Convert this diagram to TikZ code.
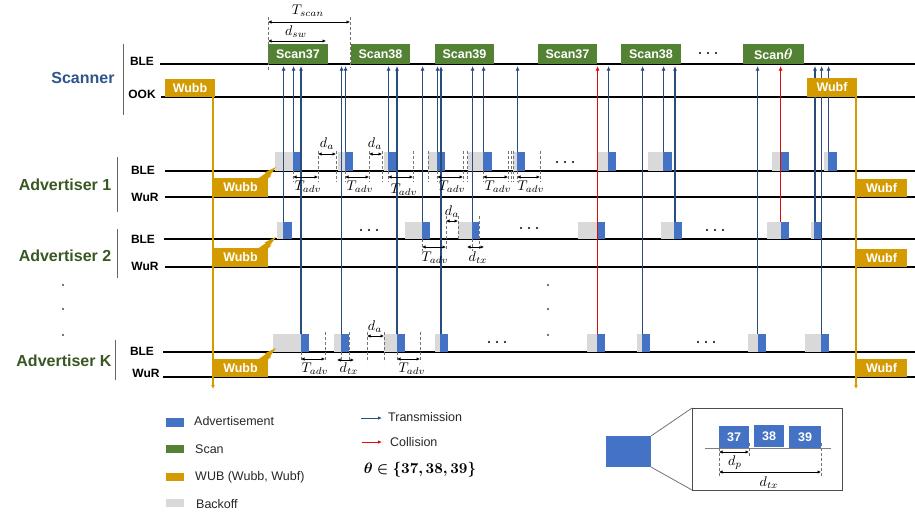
\documentclass[tikz,border=0pt]{standalone}
\usepackage[no-math]{fontspec}
\setmainfont{Liberation Sans}
\usepackage{bm}
\usepackage{graphicx}
\usetikzlibrary{arrows.meta}
\definecolor{scang}{RGB}{84,130,53}
\definecolor{wub}{RGB}{211,155,0}
\definecolor{advb}{RGB}{68,114,196}
\definecolor{boff}{RGB}{217,217,217}
\definecolor{txc}{RGB}{40,76,124}
\definecolor{colc}{RGB}{225,10,10}
\definecolor{scnc}{RGB}{44,85,140}
\definecolor{advc}{RGB}{56,87,35}
\tikzset{
  lane/.style={line width=1.1pt, black},
  vbar/.style={line width=0.9pt, black!60},
  rowlab/.style={font=\fontsize{12}{14}\selectfont\bfseries, inner sep=0pt},
  grplab/.style={font=\fontsize{16}{18}\selectfont\bfseries, inner sep=0pt},
  scanbox/.style={fill=scang, text=white, font=\fontsize{12.5}{14}\selectfont\bfseries, inner sep=0pt, minimum height=20pt},
  wubbox/.style={fill=wub, text=white, font=\fontsize{12.5}{14}\selectfont\bfseries, inner sep=0pt},
  tx/.style={draw=txc, line width=1.1pt, -{Latex[length=4.5pt,width=4pt]}},
  col/.style={draw=colc, line width=1.1pt, -{Latex[length=4.5pt,width=4pt]}},
  wubline/.style={draw=wub, line width=1.1pt, -{Latex[length=4pt,width=4pt]}},
  dim/.style={black, line width=0.9pt, {Latex[length=3.5pt,width=3.5pt]}-{Latex[length=3.5pt,width=3.5pt]}},
  dsh/.style={black!55, line width=0.8pt, dash pattern=on 3pt off 2pt},
  mlab/.style={font=\fontsize{10}{12}\selectfont, inner sep=0pt},
  legtxt/.style={font=\fontsize{12.5}{14}\selectfont, inner sep=0pt, anchor=west, text=black!85},
}
\newcommand{\mth}[1]{\scalebox{1.4}{$#1$}}
\newcommand{\wubtail}[1]{\fill[wub] (258,#1+0.5) -- (266,#1-5) -- (264.5,#1-5.5) -- (276,#1-11) -- (270,#1-2.5) -- (271.5,#1-2.5) -- (268,#1+0.5) -- cycle;}
\newcommand{\hdots}[3][black]{\foreach \k in {-8,0,8} \fill[#1] (#2+\k,#3) circle (1.1pt);}
\begin{document}
\begin{tikzpicture}[x=1pt,y=-1pt]
\useasboundingbox (0,0) rectangle (915,515);

% ---------- lanes ----------
\draw[lane] (160,64) -- (915,64);
\draw[lane] (161,97) -- (915,97);
\draw[lane] (165,171) -- (915,171);
\draw[lane] (165,197) -- (915,197);
\draw[lane] (164,239) -- (915,239);
\draw[lane] (165,267) -- (915,267);
\draw[lane] (163,352) -- (915,352);
\draw[lane] (163,377) -- (915,377);

% ---------- group labels ----------
\node[grplab, text=scnc] (lscan) at (83,78) {Scanner};
\node[grplab, text=advc] (ladv1) at (65,185) {Advertiser 1};
\node[grplab, text=advc] (ladv2) at (65,256) {Advertiser 2};
\node[grplab, text=advc] (ladvk) at (64,361) {Advertiser K};
\draw[vbar] (123,44) -- (123,115);
\draw[vbar] (117,157) -- (117,212);
\draw[vbar] (117,229) -- (117,278);
\draw[vbar] (115,340) -- (115,380);
\node[rowlab] (r1) at (142,61) {BLE};
\node[rowlab] (r2) at (142,94) {OOK};
\node[rowlab] (r3) at (143,170) {BLE};
\node[rowlab] (r4) at (145,197) {WuR};
\node[rowlab] (r5) at (143,239) {BLE};
\node[rowlab] (r6) at (145,266) {WuR};
\node[rowlab] (r7) at (142,351) {BLE};
\node[rowlab] (r8) at (146,373) {WuR};

% vertical dots
\foreach \y in {285,309,335} {\fill[advc] (63,\y) circle (1.2pt); \fill[advc] (548,\y) circle (1.2pt);}

% ---------- scan boxes ----------
\node[scanbox, minimum width=60pt] (sc1) at (298,54) {Scan37};
\node[scanbox, minimum width=59pt] (sc2) at (380.5,54) {Scan38};
\node[scanbox, minimum width=59pt] (sc3) at (464.5,54) {Scan39};
\node[scanbox, minimum width=59pt] (sc4) at (567.5,54) {Scan37};
\node[scanbox, minimum width=60pt] (sc5) at (651,54) {Scan38};
\node[scanbox, minimum width=61pt] (sc6) at (773.5,54) {Scan\scalebox{1.25}{$\bm{\theta}$}};
\hdots{708}{53}

% T_scan, d_sw
\draw[dsh] (268,17) -- (268,70);
\draw[dsh] (350,17) -- (350,68);
\draw[dim] (268,22) -- (350,22);
\draw[dim] (268,41) -- (326,41);
\node[mlab] (tscan) at (308,11) {\mth{T_{scan}}};
\node[mlab] (dsw) at (296,32) {\mth{d_{sw}}};

% ---------- WUB lines ----------
\draw[wubline] (213,97) -- (213,389);
\draw[wubline] (856,97) -- (856,389);

% ---------- packets ----------
\foreach \a/\b/\c in {275/293/301, 338/345/353, 384/388/396, 428/437/445, 468/483/492, 513/517/525, 598/608/616, 648/663/672, 772/781/789, 824/828/837}
  {\fill[boff] (\a,152) rectangle (\b,171); \fill[advb] (\b,152) rectangle (\c,171);}
\foreach \a/\b/\c in {277/283/292, 405/422/430, 458/472/479, 578/597/605, 661/674/682, 767/781/789, 811/814/822}
  {\fill[boff] (\a,222) rectangle (\b,239); \fill[advb] (\b,222) rectangle (\c,239);}
\foreach \a/\b/\c in {273/301/309, 334/341/349, 384/397/405, 435/440/448, 587/597/605, 637/642/650, 748/758/766, 805/821/829}
  {\fill[boff] (\a,334) rectangle (\b,352); \fill[advb] (\b,334) rectangle (\c,352);}

\hdots{565}{162}
\hdots{369}{230}
\hdots{529}{228}
\hdots{715}{230}
\hdots{497}{342}
\hdots{706}{342}

% ---------- transmissions ----------
\foreach \x in {293.6,345.6,388.6,437.6,483.6,517.6,608.6,663.6,828.6} \draw[tx] (\x,152) -- (\x,66);
\foreach \x in {283.6,422.6,472.6,675,815} \draw[tx] (\x,222) -- (\x,66);
\foreach \x in {301,341.6,397,441,642.6,757.6,821.6} \draw[tx] (\x,334) -- (\x,66);
\draw[col] (597.6,334) -- (597.6,66);
\draw[col] (780.6,222) -- (780.6,66);

% ---------- Advertiser 1 timing ----------
\foreach \x in {318,336,369,382,413,428,463,467,508,511,513,540} \draw[dsh] (\x,151) -- (\x,182);
\foreach \x in {293,345,388,437,483,517} \draw[dsh] (\x,171) -- (\x,182);
\foreach \a/\b/\lx/\ly [count=\i] in {293/318/308/187, 345/369/360/187, 388/413/404/190, 437/463/452/187, 483/508/498/187, 517/540/531/187}
  {\draw[dim] (\a,177) -- (\b,177); \node[mlab] (ta\i) at (\lx,\ly) {\mth{T_{adv}}};}
\draw[dim] (318,154) -- (336,154);
\draw[dim] (369,154) -- (382,154);
\node[mlab] (da1) at (327,144) {\mth{d_a}};
\node[mlab] (da2) at (375,144) {\mth{d_a}};

% ---------- Advertiser 2 timing ----------
\draw[dsh] (422,239) -- (422,251);
\draw[dsh] (446,216) -- (446,251);
\draw[dsh] (458,216) -- (458,239);
\draw[dsh] (472,239) -- (472,251);
\draw[dsh] (479,216) -- (479,251);
\draw[dim] (422,247) -- (446,247);
\draw[dim] (446,221) -- (458,221);
\draw[dim] (467,247) -- (484,247);
\node[mlab] (tb1) at (435,258) {\mth{T_{adv}}};
\node[mlab] (db1) at (452,212) {\mth{d_a}};
\node[mlab] (dtx1) at (478,258) {\mth{d_{tx}}};

% ---------- Advertiser K timing ----------
\foreach \x in {325,349,367,384,420} \draw[dsh] (\x,332) -- (\x,362);
\foreach \x in {301,341,397} \draw[dsh] (\x,352) -- (\x,362);
\draw[dim] (301,359) -- (325,359);
\draw[dim] (397,359) -- (420,359);
\draw[dim] (367,336) -- (384,336);
\draw[dim] (337,360) -- (354,360);
\node[mlab] (tk1) at (315,369) {\mth{T_{adv}}};
\node[mlab] (tk2) at (412,369) {\mth{T_{adv}}};
\node[mlab] (dk1) at (375,327) {\mth{d_a}};
\node[mlab] (dtx2) at (349,369) {\mth{d_{tx}}};

% ---------- WUB boxes ----------
\node[wubbox, minimum width=50pt, minimum height=18pt] (wbs) at (190,88) {Wubb};
\node[wubbox, minimum width=50pt, minimum height=19pt] (wfs) at (832,87.5) {Wubf};
\wubtail{178} \wubtail{248} \wubtail{359}
\node[wubbox, minimum width=55pt, minimum height=19pt] (wb1) at (240.5,187.5) {Wubb};
\node[wubbox, minimum width=55pt, minimum height=19pt] (wb2) at (240.5,257.5) {Wubb};
\node[wubbox, minimum width=55pt, minimum height=18pt] (wbk) at (240.5,368) {Wubb};
\node[wubbox, minimum width=51pt, minimum height=18pt] (wf1) at (881.5,188) {Wubf};
\node[wubbox, minimum width=51pt, minimum height=18pt] (wf2) at (881.5,258) {Wubf};
\node[wubbox, minimum width=51pt, minimum height=18pt] (wfk) at (881.5,368) {Wubf};

% ---------- legend ----------
\fill[advb] (166,418) rectangle (184,427);
\fill[scang] (166,445) rectangle (184,453);
\fill[wub] (166,473) rectangle (184,481);
\fill[boff] (166,499) rectangle (184,507);
\node[legtxt] (l1) at (194,421) {Advertisement};
\node[legtxt] (l2) at (195,449) {Scan};
\node[legtxt] (l3) at (195,477) {WUB (Wubb, Wubf)};
\node[legtxt] (l4) at (196,504) {Backoff};
\coordinate (ta) at (361,418); \coordinate (tb) at (382,418);
\coordinate (ca) at (362,442); \coordinate (cb) at (382,442);
\draw[draw=txc, line width=0.9pt, -{Latex[length=4pt,width=3.5pt]}] (ta) -- (tb);
\draw[draw=colc, line width=0.9pt, -{Latex[length=4pt,width=3.5pt]}] (ca) -- (cb);
\node[legtxt] (l5) at (388,417) {Transmission};
\node[legtxt] (l6) at (390,442) {Collision};
\node[font=\fontsize{10}{12}\selectfont, inner sep=0pt] (theta) at (420,470) {\scalebox{1.5}{$\bm{\theta\in\{37,38,39\}}$}};

% ---------- inset ----------
\fill[advb] (606,436) rectangle (651,467);
\draw[black!55, line width=0.8pt] (651,436) -- (692,408);
\draw[black!55, line width=0.8pt] (651,467) -- (692,490);
\draw[black!70, line width=0.9pt] (692,408) rectangle (842,490);
\draw[black!50, line width=0.9pt] (705,448) -- (831,448);
\node[fill=advb, text=white, font=\fontsize{12.5}{14}\selectfont\bfseries, inner sep=0pt, minimum width=30pt, minimum height=22pt] (p37) at (734,437) {37};
\node[fill=advb, text=white, font=\fontsize{12.5}{14}\selectfont\bfseries, inner sep=0pt, minimum width=30pt, minimum height=22pt] (p38) at (769,436) {38};
\node[fill=advb, text=white, font=\fontsize{12.5}{14}\selectfont\bfseries, inner sep=0pt, minimum width=32pt, minimum height=22pt] (p39) at (805,437) {39};
\draw[dsh] (719,443) -- (719,476);
\draw[dsh] (749,443) -- (749,457);
\draw[dsh] (821,443) -- (821,476);
\draw[dim] (719,452) -- (749,452);
\draw[dim] (719,472) -- (821,472);
\node[mlab] (dp) at (735,463) {\mth{d_p}};
\node[mlab] (dtx3) at (769,483) {\mth{d_{tx}}};
\end{tikzpicture}
\end{document}
